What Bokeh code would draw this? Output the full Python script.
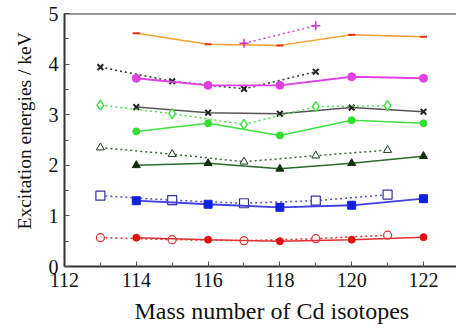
from bokeh.plotting import figure
from bokeh.models import Range1d, Span, FixedTicker, Title
from bokeh.embed import file_html
from bokeh.resources import INLINE

# Data (mass numbers and excitation energies in keV)
x_even = [114, 116, 118, 120, 122]
x_odd = [113, 115, 117, 119, 121]

orange_solid = [4.61, 4.39, 4.37, 4.58, 4.54]
magenta_dotted_x = [117, 119]
magenta_dotted = [4.41, 4.76]
black_dotted_x = [113, 115, 117, 119]
black_dotted = [3.94, 3.66, 3.51, 3.85]
magenta_solid = [3.72, 3.58, 3.58, 3.75, 3.72]
gray_solid = [3.15, 3.04, 3.02, 3.14, 3.06]
lgreen_dotted = [3.19, 3.02, 2.81, 3.16, 3.18]
green_solid = [2.67, 2.83, 2.59, 2.89, 2.83]
dgreen_dotted = [2.35, 2.22, 2.07, 2.19, 2.30]
dgreen_solid = [2.00, 2.04, 1.93, 2.04, 2.18]
blue_dotted = [1.40, 1.31, 1.25, 1.30, 1.42]
blue_solid = [1.30, 1.23, 1.17, 1.21, 1.34]
red_dotted = [0.57, 0.53, 0.51, 0.55, 0.62]
red_solid = [0.57, 0.53, 0.50, 0.53, 0.58]

x_ticks = [112, 114, 116, 118, 120, 122]
y_ticks = [0, 1, 2, 3, 4, 5]
x_title = "Mass number of Cd isotopes"
y_title = "Excitation energies / keV"

FONT = "Liberation Serif"

p = figure(width=456, height=329, output_backend="svg", toolbar_location=None,
           x_range=Range1d(112, 122.92), y_range=Range1d(0, 5),
           min_border_left=63, min_border_right=0, min_border_top=13, min_border_bottom=62)
p.outline_line_color = None
p.xgrid.visible = False
p.ygrid.visible = False
p.background_fill_color = "white"

top = Span(location=5, dimension="width", line_color="#333333", line_width=2)
p.add_layout(top)

for ax in (p.xaxis[0], p.yaxis[0]):
    ax.axis_line_color = "#333333"
    ax.axis_line_width = 2
    ax.major_tick_in = 5
    ax.major_tick_out = 0
    ax.minor_tick_in = 4
    ax.minor_tick_out = 0
    ax.major_tick_line_color = "#555555"
    ax.minor_tick_line_color = "#555555"
    ax.major_label_text_font = FONT
    ax.major_label_text_font_size = "20px"
    ax.major_label_text_color = "#111111"

p.xaxis.ticker = FixedTicker(ticks=x_ticks, minor_ticks=[113, 115, 117, 119, 121])
p.yaxis.ticker = FixedTicker(ticks=y_ticks, minor_ticks=[0.5, 1.5, 2.5, 3.5, 4.5])
p.xaxis.major_label_standoff = 6
p.yaxis.major_label_standoff = 6

p.add_layout(Title(text=x_title, align="left", offset=70, text_font=FONT,
                   text_font_size="24px", text_font_style="normal", text_color="#111111",
                   standoff=12), "below")
p.add_layout(Title(text=y_title, align="left", offset=37, text_font=FONT,
                   text_font_size="19.5px", text_font_style="normal", text_color="#111111",
                   standoff=22), "left")

# orange solid with red dash markers
p.line(x_even, orange_solid, line_color="#f5a030", line_width=1.5)
p.scatter(x_even, orange_solid, marker="dash", size=7, line_color="#e03020", line_width=2)

# magenta dotted with plus
p.line(magenta_dotted_x, magenta_dotted, line_color="#e040e0", line_width=1.5, line_dash="2 3")
p.scatter(magenta_dotted_x, magenta_dotted, marker="cross", size=9, line_color="#d030d0", line_width=1.5)

# black dotted with x
p.line(black_dotted_x, black_dotted, line_color="#333333", line_width=1.5, line_dash="2 3")
p.scatter(black_dotted_x, black_dotted, marker="x", size=8, line_color="#222222", line_width=2)

# magenta solid filled circles
p.line(x_even, magenta_solid, line_color="#e040e0", line_width=1.8)
p.scatter(x_even, magenta_solid, marker="circle", size=8, fill_color="#e040e0", line_color="#e040e0")

# gray solid with x
p.line(x_even, gray_solid, line_color="#555555", line_width=1.5)
p.scatter(x_even, gray_solid, marker="x", size=8, line_color="#222222", line_width=2)

# light green dotted open diamonds
p.line(x_odd, lgreen_dotted, line_color="#50e050", line_width=1.5, line_dash="2 3")
p.scatter(x_odd, lgreen_dotted, marker="diamond", size=10, fill_color="white", line_color="#40e040", line_width=1.5)

# green solid filled circles
p.line(x_even, green_solid, line_color="#40e040", line_width=1.5)
p.scatter(x_even, green_solid, marker="circle", size=7, fill_color="#30e030", line_color="#30e030")

# dark green dotted open triangles
p.line(x_odd, dgreen_dotted, line_color="#3a6a3a", line_width=1.5, line_dash="2 3")
p.scatter(x_odd, dgreen_dotted, marker="triangle", size=8, fill_color="white", line_color="#1a3a1a", line_width=1)

# dark green solid filled triangles
p.line(x_even, dgreen_solid, line_color="#2a6a2a", line_width=1.5)
p.scatter(x_even, dgreen_solid, marker="triangle", size=8, fill_color="#103010", line_color="#103010")

# blue dotted open squares
p.line(x_odd, blue_dotted, line_color="#5050c0", line_width=1.5, line_dash="2 3")
p.scatter(x_odd, blue_dotted, marker="square", size=9, fill_color="white", line_color="#3030a0", line_width=1.2)

# blue solid filled squares
p.line(x_even, blue_solid, line_color="#4040e0", line_width=1.8)
p.scatter(x_even, blue_solid, marker="square", size=8, fill_color="#1020e0", line_color="#1020e0")

# red dotted open circles
p.line(x_odd, red_dotted, line_color="#e03030", line_width=1.5, line_dash="2 3")
p.scatter(x_odd, red_dotted, marker="circle", size=8, fill_color="white", line_color="#e03030", line_width=1.2)

# red solid filled circles
p.line(x_even, red_solid, line_color="#e03030", line_width=1.5)
p.scatter(x_even, red_solid, marker="circle", size=7, fill_color="#e01010", line_color="#e01010")

open("out.html", "w").write(file_html(p, INLINE))
